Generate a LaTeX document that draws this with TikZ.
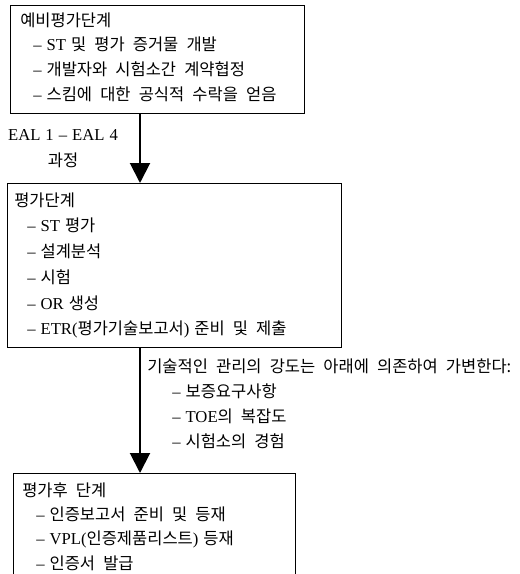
\documentclass[tikz,border=0pt]{standalone}
\usepackage{fontspec}
\setmainfont[WordSpace=1.2]{Liberation Serif}
\newfontfamily\krfont[Scale=0.99, WordSpace=2.2]{Noto Sans CJK KR}
\newcommand{\kr}[1]{{\krfont #1}}
\usetikzlibrary{arrows.meta}

\begin{document}
\begin{tikzpicture}[x=0.75pt, y=-0.75pt,
    stagebox/.style={draw, line width=0.9pt, anchor=north west, inner sep=0pt},
    txtline/.style={anchor=west, inner sep=0pt, font=\fontsize{12.5}{14}\selectfont},
    flow/.style={line width=1.5pt, -{Triangle[width=15pt, length=15pt]}}]
        % Frame of the picture (last box runs off the bottom)
        \clip (0,0) rectangle (520,574);
        \coordinate (ax) at (140,0);

        % Stage boxes
        \node[stagebox, minimum width=220.5pt, minimum height=81pt] (pre) at (10,5) {};
        \node[stagebox, minimum width=250.5pt, minimum height=123pt] (eval) at (7,183) {};
        \node[stagebox, minimum width=211.5pt, minimum height=100pt] (post) at (13,473) {};

        % Pre-evaluation stage
        \node[txtline] (pre-t) at (20,20) {\kr{예비평가단계}};
        \foreach \t [count=\i] in {-- ST \kr{및 평가 증거물 개발},
                                   -- \kr{개발자와 시험소간 계약협정},
                                   -- \kr{스킴에 대한 공식적 수락을 얻음}}
            \node[txtline] (pre-\i) at (33,20+24.7*\i) {\t};

        % Evaluation stage
        \node[txtline] (eval-t) at (14,200) {\kr{평가단계}};
        \foreach \t [count=\i] in {-- ST \kr{평가},
                                   -- \kr{설계분석},
                                   -- \kr{시험},
                                   -- OR \kr{생성},
                                   -- ETR(\kr{평가기술보고서}) \kr{준비 및 제출}}
            \node[txtline] (eval-\i) at (27,200+25.8*\i) {\t};

        % Post-evaluation stage
        \node[txtline] (post-t) at (22,490) {\kr{평가후 단계}};
        \foreach \t [count=\i] in {-- \kr{인증보고서 준비 및 등재},
                                   -- VPL(\kr{인증제품리스트}) \kr{등재},
                                   -- \kr{인증서 발급}}
            \node[txtline] (post-\i) at (36,490+24.5*\i) {\t};

        % Arrows between stages
        \draw[flow] (pre.south -| ax) -- (eval.north -| ax);
        \draw[flow] (eval.south -| ax) -- (post.north -| ax);

        % Label of first arrow
        \node[txtline, anchor=center] (eal) at (63,135) {EAL 1 -- EAL 4};
        \node[txtline, anchor=center] (eal-p) at (63,160) {\kr{과정}};

        % Label of second arrow
        \node[txtline] (var-t) at (147,366) {\kr{기술적인 관리의 강도는 아래에 의존하여 가변한다:}};
        \foreach \t [count=\i] in {-- \kr{보증요구사항},
                                   -- TOE\kr{의 복잡도},
                                   -- \kr{시험소의 경험}}
            \node[txtline] (var-\i) at (172,366+25*\i) {\t};

    \end{tikzpicture}
\end{document}
